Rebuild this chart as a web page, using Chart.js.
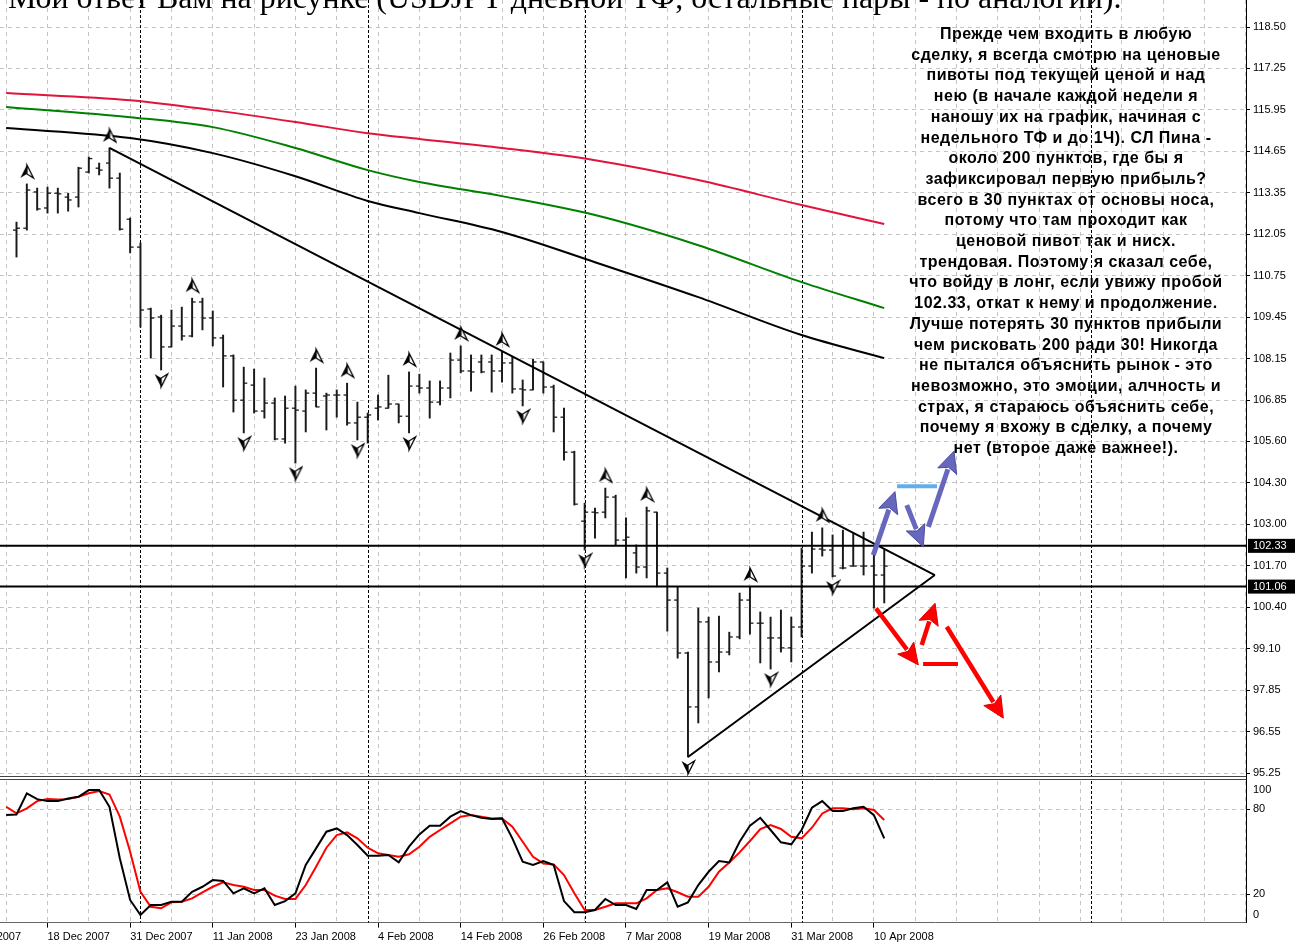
<!DOCTYPE html>
<html>
<head>
<meta charset="utf-8">
<title>USDJPY D1</title>
<script src="https://cdn.jsdelivr.net/npm/chart.js@4.4.1/dist/chart.umd.min.js"></script>
<style>
  html, body { margin: 0; padding: 0; background: #fff; }
  #wrap { position: relative; width: 1295px; height: 942px; overflow: hidden; background: #fff; }
  canvas { position: absolute; left: 0; }
  #main { top: 0; }
  #stoch { top: 779px; }
  #title { position: absolute; left: 8px; top: 0; font-family: "Liberation Serif", serif; line-height: 1; white-space: nowrap; color: #000; }
  #note { position: absolute; left: 866px; width: 400px; top: 23px; text-align: center;
          font: bold 16px "Liberation Sans", Arial, sans-serif; line-height: 20.7px; letter-spacing: 0.5px;
          color: #000; white-space: nowrap; }
  .bl { display: inline-block; width: 0; height: 0; }
</style>
</head>
<body>
<div id="wrap">
  <canvas id="main" width="1295" height="779"></canvas>
  <canvas id="stoch" width="1295" height="163"></canvas>
  <div id="title"></div>
  <div id="note"></div>
</div>
<script>
// ---- data ----
const titleText = 'Мой ответ Вам на рисунке (USDJPY дневной ТФ, остальные пары - по аналогии).';

const noteLines = [
  'Прежде чем входить в любую',
  'сделку, я всегда смотрю на ценовые',
  'пивоты под текущей ценой и над',
  'нею (в начале каждой недели я',
  'наношу их на график, начиная с',
  'недельного ТФ и до 1Ч). СЛ Пина -',
  'около 200 пунктов, где бы я',
  'зафиксировал первую прибыль?',
  'всего в 30 пунктах от основы носа,',
  'потому что там проходит как',
  'ценовой пивот так и нисх.',
  'трендовая. Поэтому я сказал себе,',
  'что войду в лонг, если увижу пробой',
  '102.33, откат к нему и продолжение.',
  'Лучше потерять 30 пунктов прибыли',
  'чем рисковать 200 ради 30! Никогда',
  'не пытался объяснить рынок - это',
  'невозможно, это эмоции, алчность и',
  'страх, я стараюсь объяснить себе,',
  'почему я вхожу в сделку, а почему',
  'нет (второе даже важнее!).'
];

const priceTickLabels = ['95.25', '96.55', '97.85', '99.10', '100.40', '101.70', '103.00', '104.30', '105.60', '106.85',
  '108.15', '109.45', '110.75', '112.05', '113.35', '114.65', '115.95', '117.25', '118.50'];

// bar index 0 = 13 Dec 2007, bar 84 = 11 Apr 2008
const dateLabels = ['6 Dec 2007', '18 Dec 2007', '31 Dec 2007', '11 Jan 2008', '23 Jan 2008', '4 Feb 2008',
  '14 Feb 2008', '26 Feb 2008', '7 Mar 2008', '19 Mar 2008', '31 Mar 2008', '10 Apr 2008'];
const dateLabelBars = [-5, 3, 11, 19, 27, 35, 43, 51, 59, 67, 75, 83];
const monthStartBars = [12, 34, 55, 76, 104];

const opens = [112.17, 112.23, 113.36, 112.86, 113.32, 113.20, 113.20, 113.98, 114.10, 114.26,
  113.79, 112.51, 111.64, 109.71, 109.46, 108.53, 109.18, 108.87, 109.93, 109.43,
  108.81, 108.25, 106.87, 107.34, 106.53, 106.78, 105.66, 106.62, 106.53, 107.09,
  107.00, 107.03, 107.03, 106.16, 106.34, 106.62, 106.62, 106.75, 106.37, 107.31,
  107.25, 106.81, 107.25, 108.12, 107.78, 108.06, 108.06, 107.78, 108.03, 107.22,
  107.19, 108.06, 107.28, 106.34, 105.25, 103.10, 103.38, 103.38, 103.85, 102.51,
  102.11, 101.67, 103.38, 101.48, 100.64, 98.99, 97.31, 99.96, 98.71, 99.02,
  99.49, 100.64, 99.92, 99.46, 99.46, 99.15, 99.80, 101.70, 102.23, 102.20,
  101.64, 101.70, 101.70, 101.70, 101.42];
const highs = [112.42, 113.61, 113.48, 113.51, 113.48, 113.32, 114.13, 114.45, 114.26, 114.73,
  113.95, 112.55, 111.77, 109.74, 109.52, 109.68, 109.77, 110.05, 110.05, 109.65,
  108.90, 108.28, 107.90, 107.84, 107.56, 106.94, 107.00, 107.31, 107.19, 107.87,
  107.09, 107.19, 107.40, 106.81, 106.47, 107.03, 107.65, 106.75, 107.75, 107.68,
  107.47, 107.47, 108.34, 108.56, 108.28, 108.28, 108.28, 108.37, 108.21, 107.50,
  108.15, 108.06, 107.34, 106.62, 105.28, 103.66, 103.51, 104.13, 103.91, 103.20,
  102.36, 103.54, 103.38, 101.64, 101.05, 99.02, 100.39, 100.11, 100.14, 99.64,
  100.86, 101.05, 100.27, 100.11, 100.33, 100.11, 102.26, 102.76, 102.89, 102.67,
  102.82, 102.73, 102.76, 102.11, 102.20];
const lows = [111.33, 112.17, 112.79, 112.70, 112.70, 112.76, 112.89, 113.95, 113.89, 113.48,
  112.17, 111.46, 109.15, 108.18, 107.81, 108.53, 108.74, 108.84, 109.06, 108.56,
  107.28, 106.50, 105.85, 106.47, 106.31, 105.63, 105.53, 104.91, 105.88, 106.66,
  105.94, 106.34, 106.09, 105.63, 105.53, 106.25, 106.62, 106.16, 105.85, 107.09,
  106.31, 106.72, 106.94, 107.72, 107.15, 107.72, 107.12, 107.43, 107.09, 106.69,
  107.19, 107.09, 105.88, 105.00, 103.60, 102.20, 102.57, 103.20, 102.36, 101.33,
  101.48, 101.33, 101.05, 99.67, 98.83, 95.75, 96.81, 97.59, 98.40, 98.93,
  99.43, 99.58, 98.68, 98.49, 99.02, 98.71, 99.49, 101.48, 102.01, 101.36,
  101.61, 101.70, 101.42, 100.39, 100.55];
const closes = [112.23, 113.42, 112.83, 113.32, 113.30, 113.11, 114.10, 114.40, 114.04, 113.79,
  112.20, 111.64, 109.68, 109.43, 108.53, 109.18, 108.87, 109.93, 109.43, 108.81,
  108.25, 106.87, 107.40, 106.53, 106.78, 105.66, 106.62, 106.56, 107.09, 106.66,
  107.03, 107.03, 106.16, 106.34, 106.41, 106.66, 106.75, 106.37, 107.31, 107.25,
  106.81, 107.25, 108.12, 107.78, 107.75, 107.75, 107.78, 108.03, 107.22, 107.19,
  108.06, 107.28, 106.34, 105.25, 103.63, 103.38, 103.36, 103.85, 102.51, 102.60,
  101.67, 103.42, 101.48, 100.64, 98.99, 97.31, 99.96, 98.71, 99.02, 99.49,
  100.64, 99.92, 99.92, 99.46, 99.15, 99.80, 101.70, 102.23, 102.20, 101.39,
  101.64, 101.70, 101.70, 101.42, 101.70];

const upFractalBars = [1, 9, 17, 29, 32, 38, 43, 47, 57, 61, 71, 78];
const downFractalBars = [14, 22, 27, 33, 38, 49, 55, 65, 73, 79];

// moving averages, sampled at these bars
const maBars = [-1, 11, 19, 27, 34, 39, 47, 56, 66, 76, 84];
const maRed = [116.44, 116.22, 115.91, 115.54, 115.19, 115.01, 114.73, 114.35, 113.73, 112.95, 112.36];
const maGreen = [116.01, 115.69, 115.38, 114.73, 114.04, 113.67, 113.23, 112.64, 111.70, 110.55, 109.74];
const maBlack = [115.35, 115.04, 114.57, 113.85, 113.08, 112.70, 112.11, 111.17, 110.08, 108.90, 108.18];

// trend lines [bar, price] -> [bar, price]
const trendDown = [[9, 114.73], [88.9, 101.42]];
const trendUp = [[65, 95.75], [88.9, 101.42]];
const levels = [102.33, 101.06];

// drawn scenario arrows: [bar0, price0, bar1, price1]
const purpleArrows = [[82.94, 102.04, 85.04, 104.02], [86.18, 103.60, 87.78, 102.30], [88.27, 102.92, 90.75, 105.28]];
const redArrows = [[83.20, 100.38, 87.30, 98.62], [87.63, 99.24, 88.92, 100.54], [90.05, 99.81, 95.53, 96.96]];
const blueMark = [85.24, 104.19, 89.11, 104.19];
const redMark = [87.76, 98.65, 91.14, 98.65];

// stochastic, bars -1 .. 84
const stochK = [76, 76.4, 91.3, 87.2, 85.8, 85.8, 87.7, 88.9, 93.6, 93.6,
  81.8, 45.4, 16, 5.4, 12.4, 12.4, 14.8, 14.8, 21.8, 25.3,
  30, 29.4, 20.7, 24.2, 20.7, 24.2, 12.4, 15.2, 20.7, 40.7,
  52.4, 64.2, 66.5, 61.8, 54.8, 47.2, 47.2, 47.7, 42.5, 53.6,
  62.3, 68.4, 68.4, 74.8, 78.8, 75.9, 74, 73.1, 73.6, 59.5,
  43, 40.7, 43.5, 40.7, 15.2, 7.3, 7.3, 8.9, 16.7, 12.4,
  12.4, 9.6, 23, 23, 28.4, 11.2, 14.3, 26.5, 35.9, 43.5,
  42.5, 57.1, 68.4, 74, 65.4, 56.7, 55.3, 65.4, 81.1, 85.8,
  78.8, 78.8, 80.7, 81.8, 75.9, 59.5];
const stochD = [81.8, 77.1, 80.7, 85.8, 87.2, 87, 87.2, 88.9, 91.3, 92.9,
  90.5, 74.8, 50, 21.8, 11.2, 10.1, 14.3, 14.8, 17.1, 21.4,
  25.3, 28.4, 26.5, 25.3, 23, 23, 19, 16.7, 16.7, 26.5,
  39.5, 52.9, 61.8, 63.7, 59.5, 52.9, 48.9, 47.7, 46.5, 48.2,
  53.6, 60.6, 65.4, 70.1, 74.8, 75.9, 74.8, 73.6, 73.6, 67.7,
  57.1, 46.5, 41.8, 41.1, 33.6, 20.7, 8.9, 8.9, 11.2, 13.6,
  13.6, 13.6, 17.1, 23, 24.2, 21.4, 18.3, 18.3, 25.3, 35.9,
  42.5, 49.6, 57.6, 66.1, 68.9, 66.1, 60.6, 59.5, 67, 77.1,
  80.7, 80.7, 80, 80.7, 79.5, 72.4];
const stochLevels = [0, 20, 80, 100];

// ---- layout ----
const X_MIN = -1.597, X_MAX = 119.02;
const Y_MIN = 95.157, Y_MAX = 119.342;
const GRID = '#c4c4c4';

Chart.defaults.font.family = '"Liberation Sans", Arial, sans-serif';
Chart.defaults.font.size = 11;
Chart.defaults.color = '#000';

const gridBars = [];
for (let b = -5; b <= 119; b += 4) gridBars.push(b);

const pts = (xs, ys) => xs.map((x, i) => ({ x: x, y: ys[i] }));
const barIdx = highs.map((h, i) => i);
const stochBars = stochK.map((v, i) => i - 1);

function lineSet(data, color, width) {
  return { type: 'line', data: data, borderColor: color, borderWidth: width, pointRadius: 0,
           tension: 0, fill: false, order: 1 };
}
function maSet(data, color) {
  return Object.assign(lineSet(data, color, 2), { cubicInterpolationMode: 'monotone' });
}

function fractalGlyph(up) {
  const c = document.createElement('canvas');
  c.width = 16; c.height = 52;
  const g = c.getContext('2d');
  g.translate(8, up ? 14 : 36);
  if (!up) g.scale(1, -1);
  g.lineJoin = 'miter';
  g.beginPath(); g.moveTo(0, -7); g.lineTo(-6.5, 6); g.lineTo(0, 2); g.closePath();
  g.fillStyle = '#000'; g.fill();
  g.beginPath(); g.moveTo(0, -7); g.lineTo(6.5, 6); g.lineTo(0, 2); g.closePath();
  g.fillStyle = '#fff'; g.fill();
  g.strokeStyle = '#000'; g.lineWidth = 1.3; g.stroke();
  return c;
}

const separators = {
  id: 'separators',
  beforeDatasetsDraw(chart) {
    const { ctx, chartArea: a, scales: { x } } = chart;
    ctx.save();
    ctx.strokeStyle = '#000'; ctx.lineWidth = 1; ctx.setLineDash([3, 2]);
    monthStartBars.forEach(b => {
      const px = Math.round(x.getPixelForValue(b)) + 0.5;
      ctx.beginPath(); ctx.moveTo(px, a.top); ctx.lineTo(px, a.bottom); ctx.stroke();
    });
    ctx.restore();
  }
};

const scenario = {
  id: 'scenario',
  afterDatasetsDraw(chart) {
    const { ctx, scales: { x, y } } = chart;
    const arrow = (s, fill, edge, width) => {
      const x1 = x.getPixelForValue(s[0]), y1 = y.getPixelForValue(s[1]);
      const x2 = x.getPixelForValue(s[2]), y2 = y.getPixelForValue(s[3]);
      const len = Math.hypot(x2 - x1, y2 - y1), ux = (x2 - x1) / len, uy = (y2 - y1) / len;
      const hl = 21, hw = 10;
      const bx = x2 - ux * hl, by = y2 - uy * hl;
      ctx.save();
      ctx.strokeStyle = fill; ctx.lineWidth = width; ctx.lineCap = 'butt';
      ctx.beginPath(); ctx.moveTo(x1, y1); ctx.lineTo(bx + ux * 2, by + uy * 2); ctx.stroke();
      ctx.beginPath();
      ctx.moveTo(x2, y2);
      ctx.lineTo(bx - uy * hw, by + ux * hw);
      ctx.lineTo(bx + ux * 4, by + uy * 4);
      ctx.lineTo(bx + uy * hw, by - ux * hw);
      ctx.closePath();
      ctx.fillStyle = fill; ctx.fill();
      ctx.strokeStyle = edge; ctx.lineWidth = 1; ctx.stroke();
      ctx.restore();
    };
    const mark = (s, color) => {
      ctx.save();
      ctx.strokeStyle = color; ctx.lineWidth = 4; ctx.lineCap = 'butt';
      ctx.beginPath();
      ctx.moveTo(x.getPixelForValue(s[0]), y.getPixelForValue(s[1]));
      ctx.lineTo(x.getPixelForValue(s[2]), y.getPixelForValue(s[3]));
      ctx.stroke();
      ctx.restore();
    };
    mark(blueMark, '#5fb0f0');
    mark(redMark, '#ff0000');
    purpleArrows.forEach(s => arrow(s, '#6767bd', '#4b4b9e', 5));
    redArrows.forEach(s => arrow(s, '#ff0000', '#dd0000', 4.5));
  }
};

const levelTags = {
  id: 'levelTags',
  afterDraw(chart) {
    const { ctx, chartArea: a, scales: { y } } = chart;
    ctx.save();
    ctx.strokeStyle = '#000'; ctx.lineWidth = 1;
    ctx.beginPath(); ctx.moveTo(a.right + 0.5, a.bottom); ctx.lineTo(a.right + 0.5, chart.height); ctx.stroke();
    ctx.font = '11px "Liberation Sans", Arial, sans-serif';
    ctx.textBaseline = 'middle';
    levels.forEach(v => {
      const py = y.getPixelForValue(v);
      ctx.fillStyle = '#000';
      ctx.fillRect(a.right + 2, py - 7, 49, 14);
      ctx.fillStyle = '#fff';
      ctx.fillText(v.toFixed(2), a.right + 7, py + 0.5);
    });
    ctx.restore();
  }
};

const topFrame = {
  id: 'topFrame',
  afterDraw(chart) {
    const { ctx, chartArea: a } = chart;
    ctx.save();
    ctx.strokeStyle = '#444'; ctx.lineWidth = 1;
    ctx.beginPath(); ctx.moveTo(0, a.top - 1.5); ctx.lineTo(a.right, a.top - 1.5); ctx.stroke();
    ctx.strokeStyle = '#000';
    ctx.beginPath(); ctx.moveTo(a.right + 0.5, 0); ctx.lineTo(a.right + 0.5, a.top); ctx.stroke();
    ctx.restore();
  }
};

// ---- price panel ----
const priceLo = +priceTickLabels[0], priceHi = +priceTickLabels[priceTickLabels.length - 1];
const priceStep = (priceHi - priceLo) / (priceTickLabels.length - 1);

new Chart(document.getElementById('main'), {
  type: 'bar',
  data: {
    datasets: [
      maSet(pts(maBars, maRed), '#e0143c'),
      maSet(pts(maBars, maGreen), '#008000'),
      maSet(pts(maBars, maBlack), '#000'),
      lineSet([{ x: trendDown[0][0], y: trendDown[0][1] }, { x: trendDown[1][0], y: trendDown[1][1] }], '#000', 2),
      lineSet([{ x: trendUp[0][0], y: trendUp[0][1] }, { x: trendUp[1][0], y: trendUp[1][1] }], '#000', 2),
      ...levels.map(v => lineSet([{ x: -3, y: v }, { x: 121, y: v }], '#000', 2)),
      {
        type: 'bar', data: barIdx.map(i => ({ x: i, y: [lows[i], highs[i]] })),
        backgroundColor: '#1a1a1a', borderWidth: 0, barThickness: 1.3, grouped: false, order: 2
      },
      {
        type: 'scatter', data: pts(barIdx, opens), pointStyle: 'dash', pointRotation: 180, pointRadius: 3.5,
        pointBorderColor: '#1a1a1a', pointBorderWidth: 1.3, pointHoverRadius: 3.5, order: 2
      },
      {
        type: 'scatter', data: pts(barIdx, closes), pointStyle: 'dash', pointRotation: 0, pointRadius: 3.5,
        pointBorderColor: '#1a1a1a', pointBorderWidth: 1.3, pointHoverRadius: 3.5, order: 2
      },
      {
        type: 'scatter', data: upFractalBars.map(b => ({ x: b, y: highs[b] })), pointStyle: fractalGlyph(true),
        pointRadius: 6, order: 0
      },
      {
        type: 'scatter', data: downFractalBars.map(b => ({ x: b, y: lows[b] })), pointStyle: fractalGlyph(false),
        pointRadius: 6, order: 0
      }
    ]
  },
  options: {
    responsive: false,
    animation: false,
    events: [],
    layout: { autoPadding: false, padding: { left: 0, right: 0, top: 0, bottom: 3 } },
    plugins: { legend: { display: false }, tooltip: { enabled: false } },
    scales: {
      x: {
        type: 'linear', min: X_MIN, max: X_MAX, offset: false,
        afterBuildTicks: s => { s.ticks = gridBars.map(v => ({ value: v })); },
        afterFit: s => { s.height = 0; s.paddingLeft = 0; s.paddingRight = 0; },
        ticks: { display: false },
        grid: { color: GRID, drawTicks: false, offset: false },
        border: { display: true, color: '#444', dash: [4, 4] }
      },
      y: {
        type: 'linear', position: 'right', min: Y_MIN, max: Y_MAX, beginAtZero: false,
        afterBuildTicks: s => { s.ticks = priceTickLabels.map((l, k) => ({ value: priceLo + k * priceStep })); },
        afterFit: s => { s.width = 49; s.paddingTop = 0; s.paddingBottom = 0; },
        ticks: { padding: 3, autoSkip: false, callback: (v, i) => priceTickLabels[i] },
        grid: { color: GRID, tickColor: '#000', tickLength: 4, tickBorderDash: [] },
        border: { display: true, color: '#000', dash: [4, 4] }
      }
    }
  },
  plugins: [separators, scenario, levelTags]
});

// ---- stochastic panel ----
const nudge = v => (v === 100 ? 93.6 : v === 0 ? 5.4 : v);

new Chart(document.getElementById('stoch'), {
  type: 'line',
  data: {
    datasets: [
      lineSet(pts(stochBars, stochK), '#000', 2),
      lineSet(pts(stochBars, stochD), '#ff0000', 2)
    ]
  },
  options: {
    responsive: false,
    animation: false,
    events: [],
    layout: { autoPadding: false, padding: { left: 0, right: 0, top: 2, bottom: 0 } },
    plugins: { legend: { display: false }, tooltip: { enabled: false } },
    scales: {
      x: {
        type: 'linear', min: X_MIN, max: X_MAX, offset: false,
        afterBuildTicks: s => { s.ticks = gridBars.map(v => ({ value: v })); },
        afterFit: s => { s.height = 19.4; s.paddingLeft = 0; s.paddingRight = 0; },
        ticks: {
          align: 'start', padding: 3, autoSkip: false, maxRotation: 0,
          callback: v => { const k = dateLabelBars.indexOf(v); return k < 0 ? '' : dateLabels[k]; }
        },
        grid: {
          color: GRID, tickLength: 5,
          tickColor: c => (c.tick && dateLabelBars.includes(c.tick.value) ? '#000' : 'rgba(0,0,0,0)'),
          tickBorderDash: []
        },
        border: { display: true, color: '#666', dash: [4, 4] }
      },
      y: {
        type: 'linear', position: 'right', min: 0, max: 100,
        afterBuildTicks: s => { s.ticks = stochLevels.map(v => ({ value: nudge(v) })); },
        afterFit: s => { s.width = 49; s.paddingTop = 0; s.paddingBottom = 0; },
        ticks: { padding: 3, autoSkip: false, callback: (v, i) => String(stochLevels[i]) },
        grid: {
          color: c => (c.tick && (c.tick.value === 20 || c.tick.value === 80) ? GRID : 'rgba(0,0,0,0)'),
          tickColor: c => (c.tick && (c.tick.value === 20 || c.tick.value === 80) ? '#000' : 'rgba(0,0,0,0)'),
          tickLength: 4, tickBorderDash: []
        },
        border: { display: true, color: '#000', dash: [4, 4] }
      }
    }
  },
  plugins: [separators, topFrame]
});

// ---- text overlays ----
function baselineOf(el) {
  const probe = document.createElement('span');
  probe.className = 'bl';
  el.appendChild(probe);
  const wrapTop = document.getElementById('wrap').getBoundingClientRect().top;
  const y = probe.getBoundingClientRect().top - wrapTop;
  probe.remove();
  return y;
}

const titleEl = document.getElementById('title');
const mctx = document.createElement('canvas').getContext('2d');
mctx.font = '100px "Liberation Serif"';
const titleSize = 100 * 1115 / mctx.measureText(titleText).width;
titleEl.style.fontSize = titleSize + 'px';
titleEl.textContent = titleText;
titleEl.style.top = (8 - baselineOf(titleEl)) + 'px';

const noteEl = document.getElementById('note');
noteLines.forEach(t => { const d = document.createElement('div'); d.textContent = t; noteEl.appendChild(d); });
noteEl.style.top = (23 + 39 - baselineOf(noteEl.firstChild)) + 'px';
</script>
</body>
</html>
